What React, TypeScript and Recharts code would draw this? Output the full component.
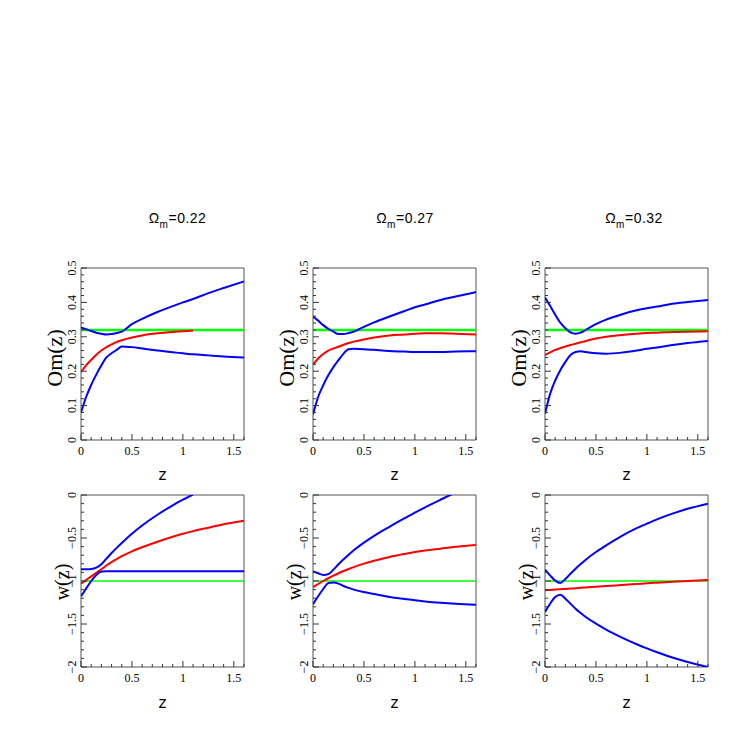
import { Line, LineChart, ReferenceArea, XAxis, YAxis } from 'recharts'

// redshift grid shared by every curve
const Z = [0, 0.05, 0.1, 0.15, 0.2, 0.25, 0.3, 0.35, 0.4, 0.5, 0.6, 0.75, 0.9, 1.0, 1.1, 1.25, 1.4, 1.6]

const OM_FID = 0.32
const W_FID = -1

// Om(z) panels: reconstruction (mid) and upper / lower bounds
const OM22_MID = [0.197, 0.217, 0.233, 0.248, 0.26, 0.27, 0.278, 0.285, 0.29, 0.298, 0.304, 0.31, 0.314, 0.316, 0.318, null, null, null]
const OM22_HI = [0.327, 0.322, 0.317, 0.312, 0.309, 0.307, 0.308, 0.311, 0.315, 0.337, 0.352, 0.372, 0.389, 0.4, 0.41, 0.427, 0.442, 0.461]
const OM22_LO = [0.08, 0.125, 0.16, 0.19, 0.217, 0.24, 0.252, 0.262, 0.272, 0.27, 0.266, 0.26, 0.255, 0.252, 0.249, 0.246, 0.243, 0.24]

const OM27_MID = [0.219, 0.237, 0.25, 0.26, 0.266, 0.271, 0.277, 0.282, 0.286, 0.292, 0.298, 0.304, 0.307, 0.309, 0.31, 0.31, 0.309, 0.307]
const OM27_HI = [0.359, 0.347, 0.334, 0.323, 0.315, 0.308, 0.308, 0.311, 0.315, 0.329, 0.342, 0.359, 0.375, 0.386, 0.394, 0.407, 0.417, 0.43]
const OM27_LO = [0.074, 0.125, 0.159, 0.188, 0.212, 0.232, 0.251, 0.264, 0.265, 0.264, 0.262, 0.259, 0.257, 0.256, 0.256, 0.256, 0.257, 0.258]

const OM32_MID = [0.247, 0.255, 0.262, 0.267, 0.272, 0.276, 0.28, 0.284, 0.288, 0.295, 0.3, 0.305, 0.309, 0.311, 0.312, 0.314, 0.315, 0.316]
const OM32_HI = [0.414, 0.39, 0.364, 0.341, 0.325, 0.313, 0.309, 0.312, 0.32, 0.337, 0.35, 0.365, 0.377, 0.383, 0.388, 0.396, 0.401, 0.407]
const OM32_LO = [0.076, 0.134, 0.173, 0.203, 0.227, 0.247, 0.256, 0.258, 0.256, 0.252, 0.251, 0.254, 0.26, 0.265, 0.269, 0.276, 0.282, 0.288]

// w(z) panels
const W22_MID = [-1.031, -0.988, -0.946, -0.905, -0.864, -0.82, -0.78, -0.745, -0.712, -0.655, -0.608, -0.543, -0.485, -0.45, -0.42, -0.38, -0.34, -0.298]
const W22_HI = [-0.864, -0.863, -0.86, -0.845, -0.806, -0.74, -0.675, -0.615, -0.558, -0.45, -0.355, -0.23, -0.12, -0.055, 0.005, null, null, null]
const W22_LO = [-1.178, -1.089, -1.0, -0.93, -0.89, -0.888, -0.888, -0.888, -0.888, -0.888, -0.888, -0.888, -0.888, -0.888, -0.888, -0.888, -0.888, -0.888]

const W27_MID = [-1.07, -1.035, -1.0, -0.968, -0.938, -0.91, -0.884, -0.86, -0.838, -0.798, -0.765, -0.721, -0.685, -0.663, -0.645, -0.624, -0.603, -0.581]
const W27_HI = [-0.888, -0.91, -0.93, -0.92, -0.868, -0.806, -0.748, -0.694, -0.643, -0.554, -0.475, -0.37, -0.27, -0.205, -0.143, -0.055, 0.03, null]
const W27_LO = [-1.271, -1.178, -1.093, -1.025, -1.016, -1.03, -1.058, -1.08, -1.1, -1.128, -1.15, -1.186, -1.21, -1.225, -1.237, -1.252, -1.264, -1.275]

const W32_MID = [-1.108, -1.104, -1.1, -1.096, -1.092, -1.088, -1.084, -1.079, -1.075, -1.066, -1.058, -1.047, -1.035, -1.027, -1.02, -1.01, -1.0, -0.988]
const W32_HI = [-0.868, -0.934, -0.996, -1.023, -0.977, -0.915, -0.857, -0.803, -0.752, -0.663, -0.585, -0.477, -0.385, -0.333, -0.283, -0.217, -0.16, -0.1]
const W32_LO = [-1.36, -1.264, -1.186, -1.159, -1.205, -1.264, -1.322, -1.372, -1.419, -1.496, -1.565, -1.655, -1.735, -1.783, -1.828, -1.89, -1.942, -2.0]

const TITLES = ['0.22', '0.27', '0.32']

const X_TICKS = [0, 0.1, 0.2, 0.3, 0.4, 0.5, 0.6, 0.7, 0.8, 0.9, 1, 1.1, 1.2, 1.3, 1.4, 1.5, 1.6]
const OM_TICKS = [0, 0.02, 0.04, 0.06, 0.08, 0.1, 0.12, 0.14, 0.16, 0.18, 0.2, 0.22, 0.24, 0.26, 0.28, 0.3, 0.32, 0.34, 0.36, 0.38, 0.4, 0.42, 0.44, 0.46, 0.48, 0.5]
const W_TICKS = [-2, -1.9, -1.8, -1.7, -1.6, -1.5, -1.4, -1.3, -1.2, -1.1, -1, -0.9, -0.8, -0.7, -0.6, -0.5, -0.4, -0.3, -0.2, -0.1, 0]

const PLOT_LEFT = [81, 313, 545]
const PLOT_TOP = [268, 495]
const PLOT_W = 163
const PLOT_H = 172

const FRAME = '#555'
const TICK = '#333'
const TICK_FONT = '"Liberation Serif", "DejaVu Serif", serif'

const isMajor = (v: number, step: number) => Math.abs(v / step - Math.round(v / step)) < 1e-6
const fmt = (v: number) => (v === 0 ? '0' : String(v).replace('-', '\u2212'))

function makeTick(side: 'bottom' | 'top' | 'left' | 'right', step: number) {
  return (props: any) => {
    const { x, y, payload } = props
    const v = payload.value as number
    const major = isMajor(v, step)
    const len = major ? 6 : 3
    let line
    if (side === 'bottom') line = <line x1={x} y1={y} x2={x} y2={y - len} stroke={TICK} strokeWidth={1} />
    else if (side === 'top') line = <line x1={x} y1={y} x2={x} y2={y + len} stroke={TICK} strokeWidth={1} />
    else if (side === 'left') line = <line x1={x} y1={y} x2={x + len} y2={y} stroke={TICK} strokeWidth={1} />
    else line = <line x1={x} y1={y} x2={x - len} y2={y} stroke={TICK} strokeWidth={1} />

    let label = null
    if (major && side === 'bottom') {
      label = (
        <text x={x} y={y + 11} textAnchor="middle" dominantBaseline="central" fontFamily={TICK_FONT} fontSize={12} fill="#000" stroke="none">
          {fmt(v)}
        </text>
      )
    } else if (major && side === 'left') {
      const lx = x - 9
      label = (
        <text x={lx} y={y} transform={`rotate(-90 ${lx} ${y})`} textAnchor="middle" dominantBaseline="central" fontFamily={TICK_FONT} fontSize={12} fill="#000" stroke="none">
          {fmt(v)}
        </text>
      )
    }
    return (
      <g>
        {line}
        {label}
      </g>
    )
  }
}

type PanelProps = {
  left: number
  top: number
  mid: (number | null)[]
  hi: (number | null)[]
  lo: (number | null)[]
  fid: number
  domain: [number, number]
  yTicks: number[]
  yStep: number
  greenWidth: number
}

function Panel({ left, top, mid, hi, lo, fid, domain, yTicks, yStep, greenWidth }: PanelProps) {
  const rows = Z.map((z, i) => ({ z, mid: mid[i], hi: hi[i], lo: lo[i], fid }))
  const common = { tickSize: 0, tickMargin: 0, tickLine: false, axisLine: false, allowDataOverflow: true, interval: 0 as const }
  return (
    <div style={{ position: 'absolute', left: left - 40, top: top - 10 }}>
      <LineChart width={40 + PLOT_W + 10} height={10 + PLOT_H + 30} data={rows} margin={{ top: 10, right: 10, bottom: 0, left: 0 }}>
        <XAxis xAxisId="b" dataKey="z" type="number" domain={[0, 1.6]} ticks={X_TICKS} height={30} tick={makeTick('bottom', 0.5)} {...common} />
        <XAxis xAxisId="t" orientation="top" dataKey="z" type="number" domain={[0, 1.6]} ticks={X_TICKS} height={0} tick={makeTick('top', 0.5)} {...common} />
        <YAxis yAxisId="l" type="number" domain={domain} ticks={yTicks} width={40} tick={makeTick('left', yStep)} {...common} />
        <YAxis yAxisId="r" orientation="right" type="number" domain={domain} ticks={yTicks} width={0} tick={makeTick('right', yStep)} {...common} />
        <ReferenceArea xAxisId="b" yAxisId="l" x1={0} x2={1.6} y1={domain[0]} y2={domain[1]} fill="none" fillOpacity={0} stroke={FRAME} strokeWidth={1} ifOverflow="visible" />
        <Line xAxisId="b" yAxisId="l" dataKey="fid" stroke="#00ff00" strokeWidth={greenWidth} dot={false} type="linear" isAnimationActive={false} />
        <Line xAxisId="b" yAxisId="l" dataKey="mid" stroke="#ff0000" strokeWidth={2} dot={false} type="monotone" isAnimationActive={false} />
        <Line xAxisId="b" yAxisId="l" dataKey="hi" stroke="#0000ff" strokeWidth={2} dot={false} type="monotone" isAnimationActive={false} />
        <Line xAxisId="b" yAxisId="l" dataKey="lo" stroke="#0000ff" strokeWidth={2} dot={false} type="monotone" isAnimationActive={false} />
      </LineChart>
    </div>
  )
}

const textBase: React.CSSProperties = { position: 'absolute', whiteSpace: 'nowrap', lineHeight: 1, color: '#000' }

export default function App() {
  const omPanels = [
    { mid: OM22_MID, hi: OM22_HI, lo: OM22_LO },
    { mid: OM27_MID, hi: OM27_HI, lo: OM27_LO },
    { mid: OM32_MID, hi: OM32_HI, lo: OM32_LO },
  ]
  const wPanels = [
    { mid: W22_MID, hi: W22_HI, lo: W22_LO },
    { mid: W27_MID, hi: W27_HI, lo: W27_LO },
    { mid: W32_MID, hi: W32_HI, lo: W32_LO },
  ]
  const titleX = [177.5, 405, 634]
  return (
    <div style={{ position: 'absolute', left: 0, top: 0, width: 747, height: 747, background: '#fff', overflow: 'hidden' }}>
      {TITLES.map((t, i) => (
        <div key={'t' + i} style={{ ...textBase, left: titleX[i], top: 218, transform: 'translate(-50%, -50%)', fontFamily: '"Liberation Sans", sans-serif', fontSize: 14, letterSpacing: 0.5 }}>
          Ω<span style={{ fontSize: 10, position: 'relative', top: 5 }}>m</span>={t}
        </div>
      ))}
      {omPanels.map((p, i) => (
        <Panel key={'om' + i} left={PLOT_LEFT[i]} top={PLOT_TOP[0]} {...p} fid={OM_FID} domain={[0, 0.5]} yTicks={OM_TICKS} yStep={0.1} greenWidth={2.5} />
      ))}
      {wPanels.map((p, i) => (
        <Panel key={'w' + i} left={PLOT_LEFT[i]} top={PLOT_TOP[1]} {...p} fid={W_FID} domain={[-2, 0]} yTicks={W_TICKS} yStep={0.5} greenWidth={1.3} />
      ))}
      {PLOT_LEFT.map((l, i) => (
        <div key={'zl' + i}>
          <div style={{ ...textBase, left: l + PLOT_W / 2, top: 475, transform: 'translate(-50%, -50%)', fontFamily: '"DejaVu Sans", sans-serif', fontSize: 15 }}>z</div>
          <div style={{ ...textBase, left: l + PLOT_W / 2, top: 703, transform: 'translate(-50%, -50%)', fontFamily: '"DejaVu Sans", sans-serif', fontSize: 15 }}>z</div>
          <div style={{ ...textBase, left: l - 26, top: 358, transform: 'translate(-50%, -50%) rotate(-90deg)', fontFamily: '"Liberation Serif", serif', fontSize: 22 }}>Om(z)</div>
          <div style={{ ...textBase, left: l - 19, top: 582, transform: 'translate(-50%, -50%) rotate(-90deg)', fontFamily: '"Liberation Serif", serif', fontSize: 20 }}>w(z)</div>
        </div>
      ))}
    </div>
  )
}
